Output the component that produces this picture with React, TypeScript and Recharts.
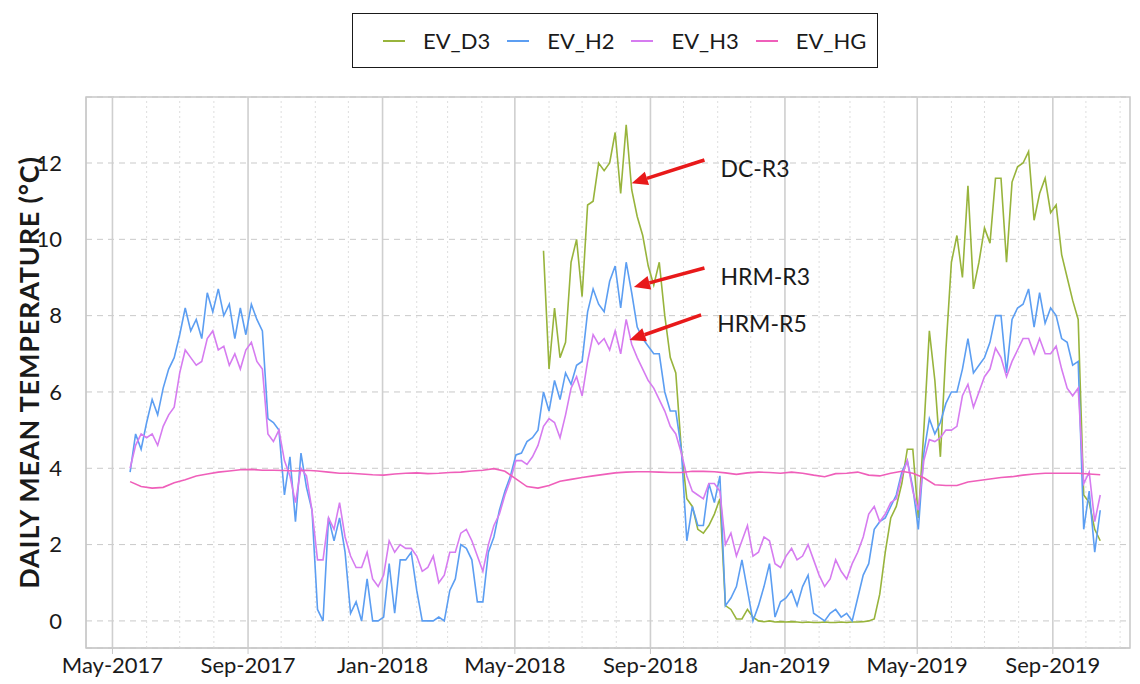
import React from "react";
import {
  CartesianGrid,
  Label,
  Legend,
  Line,
  LineChart,
  ReferenceArea,
  ReferenceLine,
  XAxis,
  YAxis,
} from "recharts";

const DAY = 86400000;
const FONT = "Lato, 'Open Sans', sans-serif";

// EV_H2 / EV_H3: one reading every 5 days from 17 May 2017
const H_START = "2017-05-17";
const evH2 = [
  3.9, 4.9, 4.5, 5.2, 5.8, 5.4, 6.1, 6.6, 6.9, 7.5, 8.2, 7.6, 7.9, 7.4, 8.6, 8.1, 8.7, 8.0, 8.3, 7.4,
  8.2, 7.5, 8.3, 7.9, 7.6, 5.3, 5.2, 5.0, 3.3, 4.3, 2.6, 4.4, 3.5, 2.9, 0.3, 0.0, 2.7, 2.1, 2.7, 1.8,
  0.2, 0.5, 0.0, 1.1, 0.0, 0.0, 0.1, 1.5, 0.2, 1.6, 1.6, 1.8, 0.8, 0.0, 0.0, 0.0, 0.1, 0.0, 0.8, 1.1,
  2.0, 1.9, 1.6, 0.5, 0.5, 1.8, 2.2, 2.9, 3.4, 3.8, 4.35, 4.4, 4.7, 4.8, 5.0, 6.0, 5.5, 6.3, 5.8, 6.5,
  6.2, 6.7, 6.8, 8.1, 8.7, 8.3, 8.1, 8.9, 9.3, 8.2, 9.4, 8.6, 7.7, 7.4, 7.2, 7.0, 7.0, 6.0, 5.5, 5.5,
  4.5, 2.1, 3.0, 2.5, 2.5, 3.6, 3.1, 3.8, 0.4, 0.6, 0.9, 1.6, 0.8, 0.0, 0.4, 0.9, 1.5, 0.1, 0.5, 0.6,
  0.8, 0.4, 0.9, 1.2, 0.2, 0.1, 0.0, 0.2, 0.3, 0.1, 0.2, 0.0, 0.6, 1.2, 1.5, 2.4, 2.6, 2.7, 3.0, 3.3,
  3.9, 4.2, 3.5, 2.4, 4.4, 5.3, 4.9, 5.2, 5.7, 6.0, 6.0, 6.6, 7.4, 6.5, 6.7, 6.9, 7.3, 8.0, 8.0, 6.5,
  7.9, 8.2, 8.3, 8.7, 7.7, 8.6, 7.8, 8.2, 8.0, 7.4, 7.3, 6.7, 6.8, 2.4, 3.4, 1.8, 2.9,
];
const evH3 = [
  4.0, 4.6, 4.9, 4.8, 4.9, 4.6, 5.1, 5.4, 5.6, 6.5, 7.1, 6.9, 6.7, 6.8, 7.4, 7.6, 7.1, 7.2, 6.7, 7.0,
  6.6, 7.1, 7.3, 6.8, 6.6, 4.9, 4.7, 5.0, 4.2, 3.8, 3.1, 4.0, 3.8, 2.9, 1.6, 1.6, 2.7, 2.4, 3.1, 2.2,
  1.7, 1.4, 1.4, 1.8, 1.1, 0.9, 1.2, 2.1, 1.8, 2.0, 1.9, 1.9, 1.7, 1.3, 1.4, 1.7, 1.0, 1.2, 1.8, 1.8,
  2.3, 2.4, 2.1, 1.7, 1.3, 2.0, 2.5, 2.8, 3.3, 3.7, 4.2, 4.2, 4.1, 4.3, 4.6, 5.1, 5.3, 5.2, 4.8, 5.4,
  6.1, 6.4, 5.9, 6.8, 7.5, 7.25, 7.4, 7.1, 7.6, 7.0, 7.9, 7.25, 6.9, 6.6, 6.3, 6.1, 5.8, 5.5, 5.1, 4.9,
  4.4, 3.8, 3.4, 3.3, 3.2, 3.6, 3.6, 3.4, 2.0, 2.3, 1.7, 2.1, 2.5, 1.7, 1.8, 2.2, 2.1, 1.5, 1.4, 1.7,
  1.9, 1.6, 1.7, 2.0, 1.6, 1.2, 0.9, 1.1, 1.6, 1.3, 1.1, 1.5, 1.8, 2.2, 2.8, 3.0, 2.6, 2.8, 3.1, 3.2,
  3.8, 4.2, 3.4, 2.9, 4.2, 4.75, 4.7, 4.8, 5.0, 5.0, 5.1, 5.9, 6.2, 5.6, 6.0, 6.4, 6.6, 7.15, 6.9, 6.4,
  6.8, 7.1, 7.4, 7.4, 7.0, 7.4, 7.0, 7.0, 7.2, 6.6, 6.1, 5.9, 6.1, 3.6, 3.9, 2.6, 3.3,
];

// EV_D3: logger starts 27 May 2018, every 5 days
const D3_START = "2018-05-27";
const evD3 = [
  9.7, 6.6, 8.2, 6.9, 7.3, 9.4, 10.0, 8.5, 10.9, 11.0, 12.0, 11.8, 12.0, 12.8, 11.2, 13.0, 11.3, 10.6,
  10.1, 9.3, 8.8, 9.4, 8.0, 6.9, 6.5, 4.5, 3.2, 3.0, 2.4, 2.3, 2.5, 2.8, 3.2, 0.4, 0.3, 0.05, 0.05, 0.3,
  0.1, 0.0, -0.02, 0.0, -0.03, -0.02, -0.03, -0.02, -0.03, -0.04, -0.03, -0.04, -0.04, -0.03, -0.04,
  -0.04, -0.03, -0.04, -0.03, -0.03, -0.02, 0.0, 0.05, 0.7, 1.8, 2.7, 3.0, 3.6, 4.5, 4.5, 2.7, 5.0, 7.6,
  6.3, 4.3, 7.1, 9.4, 10.1, 9.0, 11.4, 8.7, 9.4, 10.3, 9.9, 11.6, 11.6, 9.4, 11.5, 11.9, 12.0, 12.3,
  10.5, 11.2, 11.6, 10.7, 10.9, 9.6, 9.0, 8.4, 7.9, 3.3, 3.1, 2.4, 2.1,
];

// EV_HG: every 10 days from 17 May 2017
const HG_START = "2017-05-17";
const evHG = [
  3.65, 3.52, 3.48, 3.5, 3.62, 3.7, 3.8, 3.85, 3.9, 3.93, 3.96, 3.97, 3.95, 3.95, 3.94, 3.93, 3.95,
  3.93, 3.9, 3.87, 3.87, 3.85, 3.83, 3.82, 3.85, 3.87, 3.88, 3.86, 3.87, 3.89, 3.9, 3.93, 3.95, 3.99,
  3.92, 3.72, 3.52, 3.48, 3.55, 3.66, 3.71, 3.76, 3.8, 3.84, 3.88, 3.9, 3.91, 3.91, 3.9, 3.89, 3.89,
  3.92, 3.92, 3.91, 3.88, 3.84, 3.88, 3.9, 3.89, 3.87, 3.9, 3.87, 3.82, 3.78, 3.86, 3.87, 3.9, 3.82,
  3.8, 3.87, 3.92, 3.87, 3.75, 3.57, 3.55, 3.55, 3.64, 3.68, 3.72, 3.76, 3.78, 3.82, 3.85, 3.87, 3.87,
  3.87, 3.87, 3.85, 3.83,
];

const xTicks = [
  "2017-05-01", "2017-09-01", "2018-01-01", "2018-05-01",
  "2018-09-01", "2019-01-01", "2019-05-01", "2019-09-01",
];
const yTicks = [0, 2, 4, 6, 8, 10, 12];
const MONTHS = ["Jan", "Feb", "Mar", "Apr", "May", "Jun", "Jul", "Aug", "Sep", "Oct", "Nov", "Dec"];

const annotations = [
  { label: "DC-R3", from: ["2018-10-20", 12.08], to: ["2018-08-15", 11.47] },
  { label: "HRM-R3", from: ["2018-10-20", 9.25], to: ["2018-08-17", 8.75] },
  { label: "HRM-R5", from: ["2018-10-17", 8.02], to: ["2018-08-13", 7.36] },
];

const series = [
  { name: "EV_D3", color: "#98b43c", start: D3_START, step: 5, values: evD3 },
  { name: "EV_H2", color: "#5c9ef2", start: H_START, step: 5, values: evH2 },
  { name: "EV_H3", color: "#d67cf0", start: H_START, step: 5, values: evH3 },
  { name: "EV_HG", color: "#ef5fba", start: HG_START, step: 10, values: evHG },
];

const ts = (s: string) => Date.parse(s);
const toRows = (start: string, step: number, values: number[]) =>
  values.map((v, i) => ({ t: ts(start) + i * step * DAY, v }));

const X_MIN = ts("2017-04-07");
const X_MAX = ts("2019-11-10");
const Y_MIN = -0.71;
const Y_MAX = 13.73;

const monthLines: number[] = [];
for (let y = 2017; y <= 2019; y++) {
  for (let m = 0; m < 12; m++) {
    const t = Date.UTC(y, m, 1);
    if (t > X_MIN && t < X_MAX) monthLines.push(t);
  }
}
const majorSet = new Set(xTicks.map(ts));

const fmtDate = (t: number) => {
  const d = new Date(t);
  return `${MONTHS[d.getUTCMonth()]}-${d.getUTCFullYear()}`;
};

function LegendBox() {
  return (
    <div
      style={{
        width: 526,
        height: 55,
        border: "1.5px solid #1a1a1a",
        boxSizing: "border-box",
        display: "flex",
        alignItems: "center",
        paddingLeft: 30,
        fontFamily: FONT,
        fontSize: 22,
        color: "#1a1a1a",
      }}
    >
      {series.map((s) => (
        <span key={s.name} style={{ display: "flex", alignItems: "center", marginRight: 17 }}>
          <span style={{ width: 22, height: 2, background: s.color, marginRight: 18 }} />
          {s.name}
        </span>
      ))}
    </div>
  );
}

function Arrow(props: any) {
  const { x1, y1, x2, y2, label } = props;
  // x1,y1 = tail ; x2,y2 = tip
  const ang = Math.atan2(y2 - y1, x2 - x1);
  const len = 16;
  const half = 7;
  const bx = x2 - len * Math.cos(ang);
  const by = y2 - len * Math.sin(ang);
  const px = -Math.sin(ang) * half;
  const py = Math.cos(ang) * half;
  return (
    <g>
      <line x1={x1} y1={y1} x2={bx} y2={by} stroke="#e8191a" strokeWidth={3.5} />
      <polygon points={`${x2},${y2} ${bx + px},${by + py} ${bx - px},${by - py}`} fill="#e8191a" />
      <text x={x1 + 16} y={y1 + 17} fontFamily={FONT} fontSize={23} fill="#1a1a1a">
        {label}
      </text>
    </g>
  );
}

export default function App() {
  return (
    <div style={{ position: "absolute", left: 0, top: 0, width: 1140, height: 684, background: "#fff" }}>
      <LineChart width={1140} height={684} margin={{ top: 42, right: 10, left: 0, bottom: 0 }}>
        <CartesianGrid vertical={false} stroke="#c9c9c9" strokeDasharray="6 5" />
        <ReferenceArea
          x1={X_MIN}
          x2={X_MAX}
          y1={Y_MIN}
          y2={Y_MAX}
          fill="none"
          stroke="#c8c8c8"
          strokeWidth={1.5}
        />
        {monthLines.map((t) => (
          <ReferenceLine
            key={t}
            x={t}
            stroke={majorSet.has(t) ? "#cfcfcf" : "#dedede"}
            strokeWidth={majorSet.has(t) ? 1.6 : 1}
            strokeDasharray={majorSet.has(t) ? undefined : "2 3"}
          />
        ))}
        <XAxis
          dataKey="t"
          type="number"
          domain={[X_MIN, X_MAX]}
          allowDataOverflow
          ticks={xTicks.map(ts)}
          tickFormatter={fmtDate}
          height={36}
          tickSize={6}
          tickMargin={3}
          stroke="#c8c8c8"
          tick={{ fill: "#1a1a1a", fontSize: 22, fontFamily: FONT }}
        />
        <YAxis
          type="number"
          domain={[Y_MIN, Y_MAX]}
          allowDataOverflow
          ticks={yTicks}
          width={86}
          tickLine={false}
          tickMargin={18}
          stroke="#c8c8c8"
          tick={{ fill: "#1a1a1a", fontSize: 22, fontFamily: FONT }}
        >
          <Label
            content={({ viewBox }: any) => {
              const cy = viewBox.y + viewBox.height / 2;
              return (
                <text
                  x={28}
                  y={cy}
                  transform={`rotate(-90, 28, ${cy})`}
                  textAnchor="middle"
                  dominantBaseline="central"
                  fontFamily={FONT}
                  fontWeight={700}
                  fontSize={27}
                  letterSpacing={0.8}
                  fill="#1a1a1a"
                >
                  DAILY MEAN TEMPERATURE (°C)
                </text>
              );
            }}
          />
        </YAxis>
        <Legend
          verticalAlign="top"
          align="left"
          content={<LegendBox />}
          wrapperStyle={{ top: 13, left: 352, width: 526, height: 55 }}
        />
        {series.map((s) => (
          <Line
            key={s.name}
            name={s.name}
            data={toRows(s.start, s.step, s.values)}
            dataKey="v"
            type="linear"
            stroke={s.color}
            strokeWidth={1.6}
            dot={false}
            activeDot={false}
            isAnimationActive={false}
          />
        ))}
        {annotations.map((a) => (
          <ReferenceLine
            key={a.label}
            segment={[
              { x: ts(a.from[0] as string), y: a.from[1] as number },
              { x: ts(a.to[0] as string), y: a.to[1] as number },
            ]}
            shape={(p: any) => <Arrow {...p} label={a.label} />}
          />
        ))}
      </LineChart>
    </div>
  );
}
